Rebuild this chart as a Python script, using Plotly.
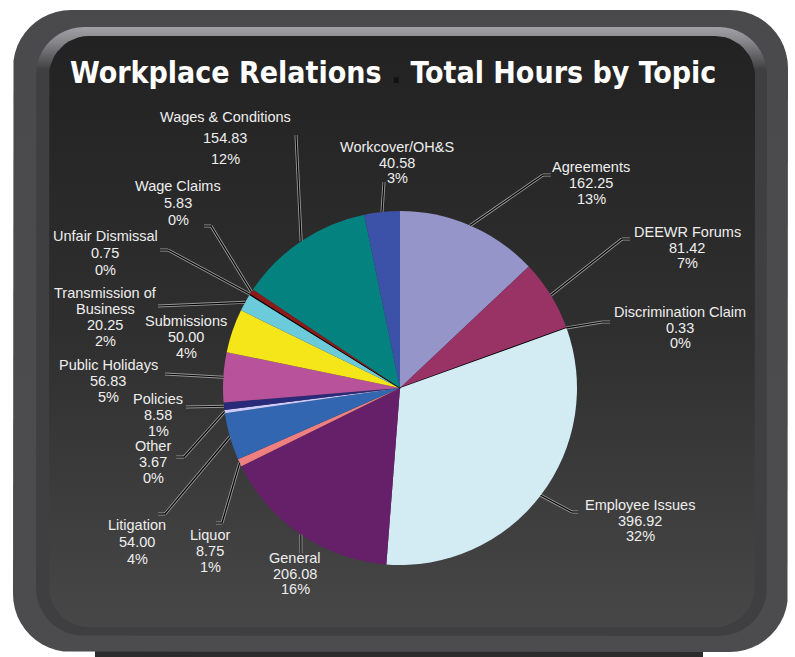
import math
import plotly.graph_objects as go

# ---------------- data ----------------
topics = ["Agreements", "DEEWR Forums", "Discrimination Claim", "Employee Issues",
          "General", "Liquor", "Litigation", "Other", "Policies", "Public Holidays",
          "Submissions", "Transmission of<br>Business", "Unfair Dismissal", "Wage Claims",
          "Wages & Conditions", "Workcover/OH&S"]
hours = [162.25, 81.42, 0.33, 396.92, 206.08, 8.75, 54.00, 3.67, 8.58, 56.83,
         50.00, 20.25, 0.75, 5.83, 154.83, 40.58]
colors = ["#9595C9", "#993366", "#FFFFCC", "#D3ECF3", "#66206A", "#F08080", "#3366B0",
          "#CCCCFF", "#2A2A7A", "#B8529B", "#F5E61A", "#6CCBDB", "#111111", "#8B1A1A",
          "#048280", "#3C52A8"]

W, H = 795, 657
CX, CY, R = 400, 388, 177

# label layout (pixel coords): text centre x, first-line y, line spacing, leader points after edge
label_layout = [
    (591, 167, 16, [(543, 175), (551, 175)]),
    (687, 232, 15.5, [(622, 239), (630, 239)]),
    (680, 312, 15.5, [(602, 322), (610, 322)]),
    (640, 505, 15.5, [(572, 512), (578, 512)]),
    (295, 558, 15.5, [(301, 553)]),
    (210, 535, 16, [(222, 523), (216, 523)]),
    (137, 525, 17, [(165, 514), (158, 514)]),
    (153, 446, 16, [(184, 457), (176, 457)]),
    (158, 399, 16, [(186, 407)]),
    (108, 365, 16, [(165, 374)]),
    (186, 321, 16, []),
    (105, 293, 16, [(158, 306)]),
    (105, 236, 17, [(168, 250), (160, 250)]),
    (178, 186, 17, [(211, 226), (204, 226)]),
    (225, 117, 21, [(296, 135)]),
    (397, 147, 15.5, [(384, 182)]),
]

total = sum(hours)

fig = go.Figure()


def rrect(x0, y0, x1, y1, r, n=12):
    xs, ys = [], []
    corners = [(x1 - r, y0 + r, -90, 0), (x1 - r, y1 - r, 0, 90),
               (x0 + r, y1 - r, 90, 180), (x0 + r, y0 + r, 180, 270)]
    for cx, cy, a0, a1 in corners:
        for i in range(n + 1):
            a = math.radians(a0 + (a1 - a0) * i / n)
            xs.append(cx + r * math.cos(a))
            ys.append(cy + r * math.sin(a))
    xs.append(xs[0]); ys.append(ys[0])
    return xs, ys


def panel(x0, y0, x1, y1, r, cscale):
    xs, ys = rrect(x0, y0, x1, y1, r)
    fig.add_trace(go.Scatter(x=xs, y=ys, mode="lines", fill="toself",
                             line=dict(width=0), hoverinfo="skip", showlegend=False,
                             fillgradient=dict(type="vertical", start=y0, stop=y1,
                                               colorscale=cscale)))


# bottom shadow strip
fig.add_trace(go.Scatter(x=[95, 703, 703, 95, 95], y=[650, 650, 657, 657, 650], mode="lines",
                         fill="toself", fillcolor="#2c2c2c", line=dict(width=0),
                         hoverinfo="skip", showlegend=False))
panel(13, 10, 788, 652, 58, [[0, "#4a4a4c"], [1, "#4c4c4e"]])
panel(36, 27, 767, 636, 48, [[0, "#a2a2a6"], [0.025, "#85858a"], [0.07, "#3f3f41"], [1, "#3f3f41"]])
panel(49, 36, 755, 627, 40, [[0, "#222222"], [0.5, "#2f2f2f"], [1, "#474747"]])

line_w = [0] * len(hours)
line_c = ["#000000"] * len(hours)
for i, v in enumerate(hours):
    if v < 1:
        line_w[i] = 1.2

fig.add_trace(go.Pie(
    labels=topics, values=hours, sort=False, direction="clockwise", rotation=0,
    marker=dict(colors=colors, line=dict(width=line_w, color=line_c)),
    textinfo="none", hoverinfo="label+value+percent", showlegend=False,
    domain=dict(x=[(CX - R) / W, (CX + R) / W], y=[1 - (CY + R) / H, 1 - (CY - R) / H]),
))

# labels and leaders
cum = 0
font = dict(family="Liberation Sans, Arial, sans-serif", size=14.5, color="#eeeeee")
for i, v in enumerate(hours):
    mid = (cum + v / 2) / total * 2 * math.pi
    cum += v
    ex = CX + R * math.sin(mid)
    ey = CY - R * math.cos(mid)
    tx, ty, dy, pts = label_layout[i]
    if pts:
        path = [(ex, ey)] + pts
        for wdt, col in ((3, "#9a9a9a"), (1.2, "#000000")):
            for (a, b), (c, d) in zip(path[:-1], path[1:]):
                fig.add_shape(type="line", x0=a, y0=b, x1=c, y1=d, xref="x", yref="y",
                              line=dict(color=col, width=wdt), layer="above")
    pct = round(v / total * 100)
    lines = topics[i].split("<br>") + [f"{v:.2f}", f"{pct}%"]
    for k, t in enumerate(lines):
        fig.add_annotation(x=tx, y=ty + k * dy, xref="x", yref="y", text=t, showarrow=False,
                           font=font, xanchor="center", yanchor="middle")

# title
fig.add_annotation(x=393, y=72, xref="x", yref="y", showarrow=False,
                   text="<b>Workplace Relations <span style='color:#111111'>.</span> Total Hours by Topic</b>",
                   font=dict(family="Liberation Sans Narrow, DejaVu Sans Condensed, Liberation Sans, Arial",
                             size=30, color="#ffffff"),
                   xanchor="center", yanchor="middle")

fig.update_layout(
    width=W, height=H, margin=dict(l=0, r=0, t=0, b=0),
    paper_bgcolor="#ffffff", plot_bgcolor="rgba(0,0,0,0)",
    xaxis=dict(range=[0, W], visible=False, fixedrange=True, domain=[0, 1]),
    yaxis=dict(range=[H, 0], visible=False, fixedrange=True, domain=[0, 1]),
)

fig.write_html("out.html")
